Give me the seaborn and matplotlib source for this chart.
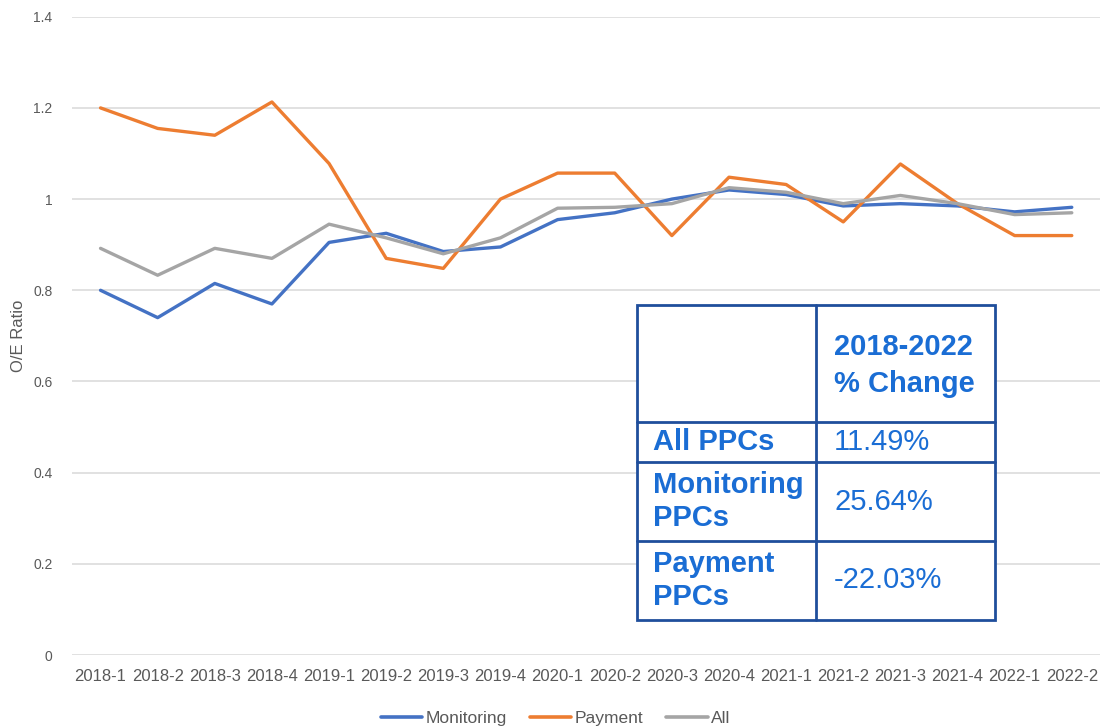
import pandas as pd
import numpy as np
import matplotlib.pyplot as plt
import seaborn as sns
from matplotlib.lines import Line2D

quarters = ['2018-1', '2018-2', '2018-3', '2018-4', '2019-1', '2019-2', '2019-3', '2019-4',
            '2020-1', '2020-2', '2020-3', '2020-4', '2021-1', '2021-2', '2021-3', '2021-4',
            '2022-1', '2022-2']
monitoring = [0.80, 0.74, 0.815, 0.77, 0.905, 0.925, 0.885, 0.895, 0.955, 0.97,
              1.0, 1.02, 1.01, 0.985, 0.99, 0.985, 0.972, 0.982]
payment = [1.20, 1.155, 1.14, 1.213, 1.078, 0.87, 0.848, 1.0, 1.057, 1.057,
           0.92, 1.048, 1.032, 0.95, 1.077, 0.99, 0.92, 0.92]
all_ppc = [0.892, 0.833, 0.892, 0.87, 0.945, 0.915, 0.88, 0.915, 0.98, 0.982,
           0.99, 1.025, 1.015, 0.99, 1.008, 0.99, 0.966, 0.97]

series_names = ['Monitoring', 'Payment', 'All']
series_colors = ['#4472C4', '#ED7D31', '#A5A5A5']

table_header = '2018-2022\n% Change'
table_rows = ['All PPCs', 'Monitoring\nPPCs', 'Payment\nPPCs']
table_values = ['11.49%', '25.64%', '-22.03%']

yticks = [0, 0.2, 0.4, 0.6, 0.8, 1.0, 1.2, 1.4]
ytick_labels = ['0', '0.2', '0.4', '0.6', '0.8', '1', '1.2', '1.4']

df = pd.DataFrame({'Quarter': quarters * 3,
                   'x': list(range(len(quarters))) * 3,
                   'ratio': monitoring + payment + all_ppc,
                   'series': [n for n in series_names for _ in quarters]})

sns.set_style('white')
plt.rcParams['font.family'] = ['Liberation Sans', 'DejaVu Sans']

fig = plt.figure(figsize=(11.07, 7.27), dpi=100)
ax = fig.add_axes([0.065, 0.099, 0.929, 0.878])

sns.lineplot(data=df, x='x', y='ratio', hue='series', hue_order=series_names,
             palette=series_colors, linewidth=2.4, ax=ax, legend=False)

ax.set_xlim(-0.5, len(quarters) - 0.5)
ax.set_ylim(0, 1.4)
ax.set_xticks(range(len(quarters)))
ax.set_xticklabels(quarters, fontsize=12, color='#595959')
ax.set_yticks(yticks)
ax.set_yticklabels(ytick_labels, fontsize=10, color='#595959')
ax.tick_params(axis='x', length=0, pad=10)
ax.tick_params(axis='y', length=0, pad=14)
ax.yaxis.grid(True, color='#D9D9D9', linewidth=1.1)
ax.set_axisbelow(True)
for s in ax.spines.values():
    s.set_visible(False)
ax.set_xlabel('')
ax.set_ylabel('O/E Ratio', fontsize=12, color='#595959', labelpad=5)

# legend at the bottom
handles = [Line2D([0], [0], color=c, lw=2.6) for c in series_colors]
fig.legend(handles, series_names, loc='lower center', bbox_to_anchor=(0.502, -0.02),
           ncol=3, frameon=False, fontsize=12.5, handlelength=2.4, columnspacing=1.3,
           labelcolor='#595959', handletextpad=0.2)

# % change table drawn over the plot
W, H = 1107, 727
x0, x1, xm = 637, 995, 816
ys = [305, 422, 462, 541, 620]
tax = fig.add_axes([x0 / W, 1 - ys[-1] / H, (x1 - x0) / W, (ys[-1] - ys[0]) / H])
tax.set_xlim(x0, x1)
tax.set_ylim(ys[-1], ys[0])
tax.axis('off')
border = '#1F4E9C'
tax.add_patch(plt.Rectangle((x0, ys[0]), x1 - x0, ys[-1] - ys[0], facecolor='white',
                            edgecolor=border, linewidth=2, clip_on=False))
tax.plot([xm, xm], [ys[0], ys[-1]], color=border, lw=2, clip_on=False)
for yy in ys[1:-1]:
    tax.plot([x0, x1], [yy, yy], color=border, lw=2, clip_on=False)

txt_color = '#1A6DD4'
tax.text(xm + 18, (ys[0] + ys[1]) / 2 + 2, table_header, fontsize=21, fontweight='bold',
         color=txt_color, va='center', ha='left', linespacing=1.4)
for i, (lab, val) in enumerate(zip(table_rows, table_values)):
    yc = (ys[i + 1] + ys[i + 2]) / 2
    tax.text(x0 + 16, yc, lab, fontsize=21, fontweight='bold', color=txt_color,
             va='center', ha='left', linespacing=1.25)
    tax.text(xm + 18, yc, val, fontsize=21, color=txt_color, va='center', ha='left')

plt.savefig('out.png', dpi=100)
